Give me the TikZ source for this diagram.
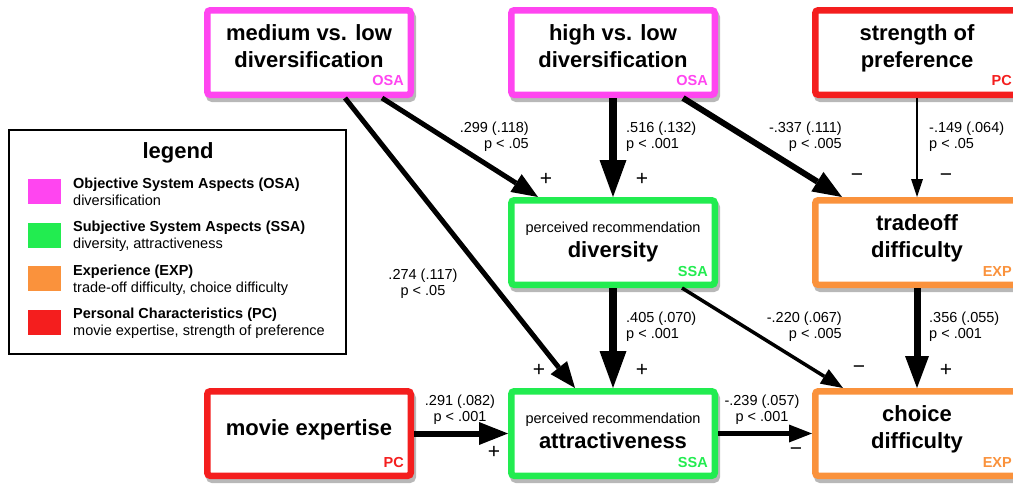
\documentclass[tikz,border=0pt]{standalone}
\usepackage{fontspec}
\setmainfont{Liberation Sans}
\usepackage{tikz}
\usetikzlibrary{arrows.meta}

\definecolor{osacol}{HTML}{FF45F0}
\definecolor{ssacol}{HTML}{22EC50}
\definecolor{expcol}{HTML}{FA923C}
\definecolor{pccol}{HTML}{F41E1E}

\begin{document}
\begin{tikzpicture}[x=1pt, y=-1pt,
  every node/.style={font=\fontsize{14.5}{16.5}\selectfont},
  factor/.style={draw, line width=6.5pt, rounded corners=3pt, fill=white,
    minimum width=203.5pt, minimum height=84.5pt, align=center, text depth=12pt,
    font=\bfseries\fontsize{22}{27}\selectfont,
    preaction={draw=black!28, fill=black!28, transform canvas={xshift=2pt,yshift=-4pt}}},
  tag/.style={anchor=base east, inner sep=0pt, font=\bfseries\fontsize{14.5}{14.5}\selectfont},
  coef/.style={inner sep=0pt},
  sign/.style={inner sep=0pt, font=\fontsize{21}{21}\selectfont},
  key/.style={anchor=base west, inner sep=0pt},
  w8/.style={line width=8pt, -{Triangle[length=37pt,width=27pt,line width=0pt]}},
  w7/.style={line width=7pt, -{Triangle[length=32pt,width=24pt,line width=0pt]}},
  w6/.style={line width=6pt, -{Triangle[length=29pt,width=23pt,line width=0pt]}},
  w5/.style={line width=5pt, -{Triangle[length=26pt,width=21pt,line width=0pt]}},
  w4/.style={line width=4.5pt, -{Triangle[length=23pt,width=18pt,line width=0pt]}},
  w3/.style={line width=3.5pt, -{Triangle[length=22pt,width=17pt,line width=0pt]}},
  w2/.style={line width=2pt, -{Triangle[length=18pt,width=12pt,line width=0pt]}}]
\useasboundingbox (0,0) rectangle (1013,485);
\clip (0,0) rectangle (1013,485);

% legend
\draw[line width=2pt] (9,130) rectangle (346,354);
\node[anchor=base, inner sep=0pt, font=\bfseries\fontsize{22}{22}\selectfont] (legend) at (178,158) {legend};
\fill[osacol] (28,179) rectangle (61,204);
\node[key, font=\bfseries\fontsize{14.5}{16.5}\selectfont] (osa-head) at (73,188) {Objective System Aspects (OSA)};
\node[key] (osa-text) at (73,205) {diversification};
\fill[ssacol] (28,222.5) rectangle (61,247.5);
\node[key, font=\bfseries\fontsize{14.5}{16.5}\selectfont] (ssa-head) at (73,231.5) {Subjective System Aspects (SSA)};
\node[key] (ssa-text) at (73,248.5) {diversity, attractiveness};
\fill[expcol] (28,266) rectangle (61,291);
\node[key, font=\bfseries\fontsize{14.5}{16.5}\selectfont] (exp-head) at (73,275) {Experience (EXP)};
\node[key] (exp-text) at (73,292) {trade-off difficulty, choice difficulty};
\fill[pccol] (28,309.5) rectangle (61,334.5);
\node[key, font=\bfseries\fontsize{14.5}{16.5}\selectfont] (pc-head) at (73,318.5) {Personal Characteristics (PC)};
\node[key] (pc-text) at (73,335.5) {movie expertise, strength of preference};

% factors
\node[factor, draw=osacol] (medlow) at (309,52.5) {medium vs. low\\diversification};
\node[factor, draw=osacol] (highlow) at (613,52.5) {high vs. low\\diversification};
\node[factor, draw=pccol] (strength) at (917,52.5) {strength of\\preference};
\node[factor, draw=ssacol, text depth=5pt] (divers) at (613,242.5)
  {{\mdseries\fontsize{14.5}{17}\selectfont perceived recommendation}\\[-2pt]diversity};
\node[factor, draw=expcol] (tradeoff) at (917,242.5) {tradeoff\\difficulty};
\node[factor, draw=pccol] (expert) at (309,433.5) {movie expertise};
\node[factor, draw=ssacol, text depth=5pt] (attract) at (613,433.5)
  {{\mdseries\fontsize{14.5}{17}\selectfont perceived recommendation}\\[-2pt]attractiveness};
\node[factor, draw=expcol] (choice) at (917,433.5) {choice\\difficulty};

\node[tag, text=osacol] (medlow-tag) at ([xshift=-10pt,yshift=13pt]medlow.south east) {OSA};
\node[tag, text=osacol] (highlow-tag) at ([xshift=-10pt,yshift=13pt]highlow.south east) {OSA};
\node[tag, text=pccol] (strength-tag) at ([xshift=-10pt,yshift=13pt]strength.south east) {PC};
\node[tag, text=ssacol] (divers-tag) at ([xshift=-10pt,yshift=12pt]divers.south east) {SSA};
\node[tag, text=expcol] (tradeoff-tag) at ([xshift=-10pt,yshift=12pt]tradeoff.south east) {EXP};
\node[tag, text=pccol] (expert-tag) at ([xshift=-10pt,yshift=12pt]expert.south east) {PC};
\node[tag, text=ssacol] (attract-tag) at ([xshift=-10pt,yshift=12pt]attract.south east) {SSA};
\node[tag, text=expcol] (choice-tag) at ([xshift=-10pt,yshift=12pt]choice.south east) {EXP};

% paths
\draw[w5] ([xshift=73pt]medlow.south) -- ([xshift=-75pt]divers.north);
\draw[w5] ([xshift=36pt]medlow.south) -- ([xshift=-38pt]attract.north);
\draw[w8] (highlow.south) -- (divers.north);
\draw[w6] ([xshift=70pt]highlow.south) -- ([xshift=-75pt]tradeoff.north);
\draw[w2] (strength.south) -- (tradeoff.north);
\draw[w8] (divers.south) -- (attract.north);
\draw[w3] ([xshift=69pt]divers.south) -- ([xshift=-74pt]choice.north);
\draw[w7] (tradeoff.south) -- (choice.north);
\draw[w6] (expert.east) -- (attract.west);
\draw[w4] (attract.east) -- (choice.west);

% coefficients (anchored on the baseline of the p line)
\node[coef, anchor=base east, align=right] (c1) at (529,148.5) {.299 (.118)\\p < .05};
\node[coef, anchor=base west, align=left] (c2) at (626,148.5) {.516 (.132)\\p < .001};
\node[coef, anchor=base east, align=right] (c3) at (842,148.5) {-.337 (.111)\\p < .005};
\node[coef, anchor=base west, align=left] (c4) at (929,148.5) {-.149 (.064)\\p < .05};
\node[coef, anchor=base, align=center] (c5) at (423,295.5) {.274 (.117)\\p < .05};
\node[coef, anchor=base west, align=left] (c6) at (626,338.5) {.405 (.070)\\p < .001};
\node[coef, anchor=base east, align=right] (c7) at (842,338.5) {-.220 (.067)\\p < .005};
\node[coef, anchor=base west, align=left] (c8) at (929,338.5) {.356 (.055)\\p < .001};
\node[coef, anchor=base, align=center] (c9) at (460,421.5) {.291 (.082)\\p < .001};
\node[coef, anchor=base, align=center] (c10) at (762,421.5) {-.239 (.057)\\p < .001};

% signs
\node[sign] (s1) at (546,179) {+};
\node[sign] (s2) at (642,179) {+};
\node[sign] (s3) at (857,178) {−};
\node[sign] (s4) at (946,178) {−};
\node[sign] (s5) at (539,370) {+};
\node[sign] (s6) at (642,370) {+};
\node[sign] (s7) at (859,370) {−};
\node[sign] (s8) at (946,370) {+};
\node[sign] (s9) at (494,452) {+};
\node[sign] (s10) at (796,452) {−};
\end{tikzpicture}
\end{document}
